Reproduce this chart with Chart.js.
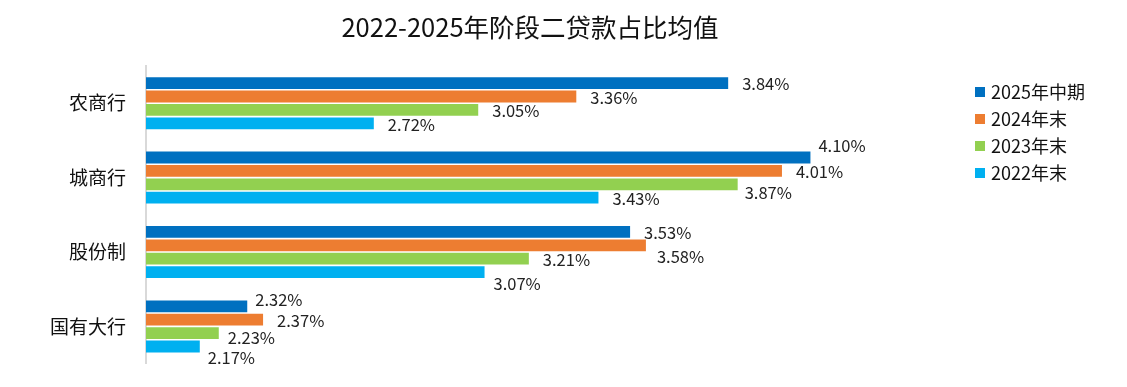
<!DOCTYPE html>
<html>
<head>
<meta charset="utf-8">
<script src="https://cdn.jsdelivr.net/npm/chart.js@4"></script>
<style>
  html, body { margin: 0; padding: 0; background: #fff; }
  #wrap { width: 1127px; height: 387px; }
</style>
</head>
<body>
<div id="wrap"><canvas id="chart"></canvas></div>
<script>
const categorias = ["农商行", "城商行", "股份制", "国有大行"];
const series = ["2025年中期", "2024年末", "2023年末", "2022年末"];
const colores = ["#0070C0", "#ED7D31", "#92D050", "#00B0F0"];

const v2025 = [3.84, 4.10, 3.53, 2.32];
const v2024 = [3.36, 4.01, 3.58, 2.37];
const v2023 = [3.05, 3.87, 3.21, 2.23];
const v2022 = [2.72, 3.43, 3.07, 2.17];

const valores = [v2025, v2024, v2023, v2022];
const fuente = '"Noto Sans CJK SC", "Noto Sans", sans-serif';

// desplazamientos manuales de etiquetas que se solapan [serie][categoria] = [dx, dy]
const ajustes = {
  "0-1": [8, -12], "2-1": [7, 8],
  "1-2": [11, 11], "3-2": [9, 12],
  "0-3": [8, -7], "2-3": [9, 5], "3-3": [8, 11]
};

// etiquetas de valor al final de cada barra
const etiquetas = {
  id: "etiquetas",
  afterDatasetsDraw(chart) {
    const ctx = chart.ctx;
    ctx.save();
    ctx.font = "16.5px " + fuente;
    ctx.fillStyle = "#222";
    ctx.textAlign = "left";
    ctx.textBaseline = "middle";
    chart.data.datasets.forEach((ds, i) => {
      chart.getDatasetMeta(i).data.forEach((bar, j) => {
        const [dx, dy] = ajustes[i + "-" + j] || [14, 1];
        ctx.fillText(ds.data[j].toFixed(2) + "%", bar.x + dx, bar.y + dy);
      });
    });
    ctx.restore();
  }
};

// titulo y leyenda
const extras = {
  id: "extras",
  afterDraw(chart) {
    const ctx = chart.ctx;
    ctx.save();
    ctx.textBaseline = "middle";
    ctx.fillStyle = "#111";
    ctx.textAlign = "center";
    ctx.font = "25.5px " + fuente;
    ctx.fillText("2022-2025年阶段二贷款占比均值", 530, 27);

    ctx.textAlign = "left";
    ctx.font = "18px " + fuente;
    chart.data.datasets.forEach((ds, i) => {
      const y = 92 + i * 27;
      ctx.fillStyle = ds.backgroundColor;
      ctx.fillRect(975, y - 5, 10, 10);
      ctx.fillStyle = "#111";
      ctx.fillText(ds.label, 991, y);
    });
    ctx.restore();
  }
};

new Chart(document.getElementById("chart"), {
  type: "bar",
  data: {
    labels: categorias,
    datasets: series.map((s, i) => ({
      label: s,
      data: valores[i],
      backgroundColor: colores[i],
      categoryPercentage: 0.72,
      barPercentage: 0.88
    }))
  },
  options: {
    indexAxis: "y",
    responsive: true,
    maintainAspectRatio: false,
    animation: false,
    layout: { padding: { left: 0, top: 66, right: 190, bottom: 21 } },
    plugins: {
      legend: { display: false },
      tooltip: { enabled: false },
      title: { display: false }
    },
    scales: {
      x: {
        display: false,
        min: 2,
        max: 4.5
      },
      y: {
        grid: { display: false },
        border: { display: true, color: "#d9d9d9", width: 2 },
        ticks: {
          color: "#111",
          padding: 12,
          font: { family: fuente, size: 19 }
        },
        afterFit(scale) { scale.width = 146; }
      }
    }
  },
  plugins: [etiquetas, extras]
});
</script>
</body>
</html>
